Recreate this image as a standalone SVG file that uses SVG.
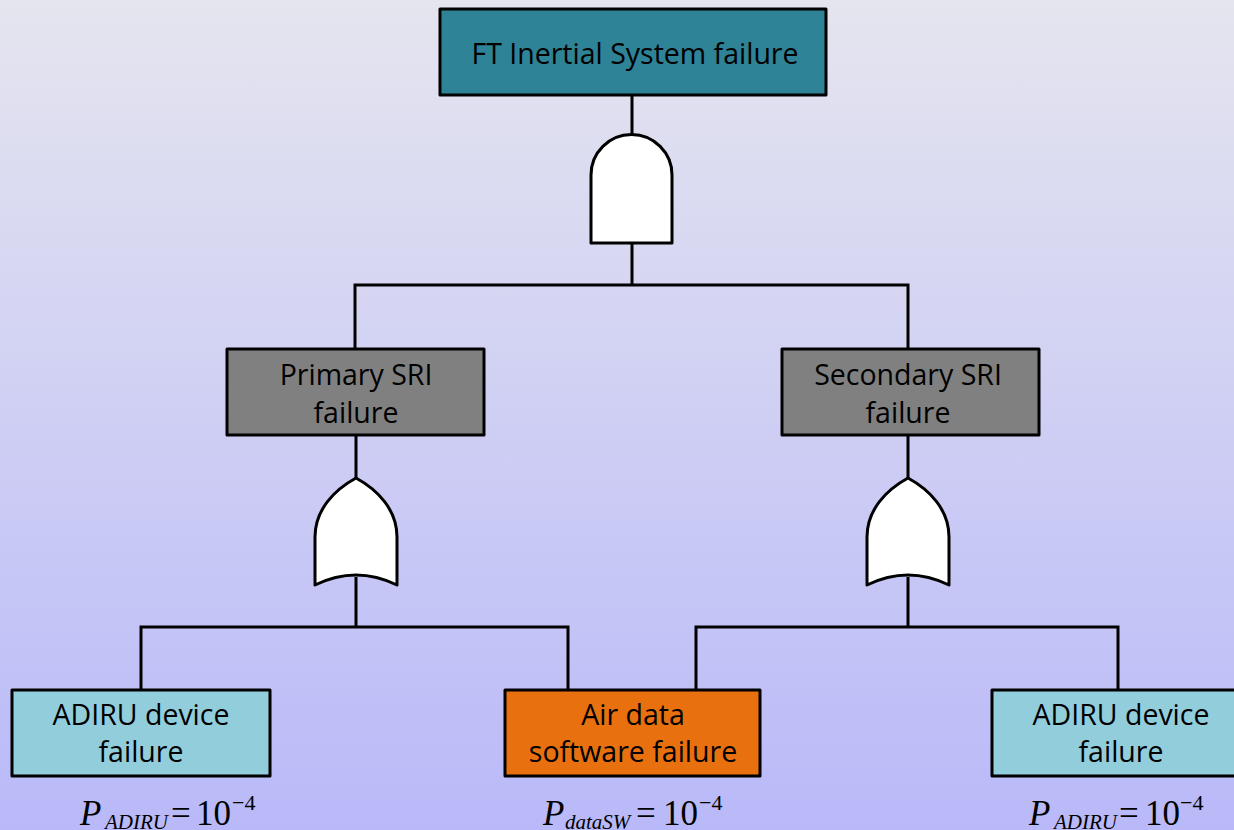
<svg xmlns="http://www.w3.org/2000/svg" width="1234" height="830" viewBox="0 0 1234 830">
  <defs>
    <linearGradient id="bg" x1="0" y1="0" x2="0" y2="1">
      <stop offset="0" stop-color="#e5e5ef"/>
      <stop offset="1" stop-color="#b9b9f9"/>
    </linearGradient>
    <path id="orGate" d="M0,0 C-22,12 -41,32 -41,59 L-41,107 Q0,87 41,107 L41,59 C41,32 22,12 0,0 Z"/>
  </defs>
  <style>
    .box { stroke: #000; stroke-width: 3; stroke-linejoin: round; }
    .wire { fill: none; stroke: #000; stroke-width: 3; }
    .gate { fill: #fff; stroke: #000; stroke-width: 3; stroke-linejoin: round; }
    .lbl { font-family: "Open Sans", Lato, sans-serif; font-size: 28.5px; fill: #000; text-anchor: middle; }
    .eq { font-family: "Liberation Serif", serif; font-size: 35px; fill: #000; }
    .it { font-style: italic; }
    .sub { font-size: 21px; font-style: italic; }
    .sup { font-size: 22px; }
  </style>

  <rect width="1234" height="830" fill="url(#bg)"/>

  <!-- connectors -->
  <g id="connectors" class="wire">
    <path d="M632,95 V135"/>
    <path d="M632,243 V285 M355,349 V285 H908 V349"/>
    <path d="M356,435 V478"/>
    <path d="M356,577 V627 M141,690 V627 H568 V690"/>
    <path d="M908,435 V478"/>
    <path d="M908,577 V627 M696,690 V627 H1118 V690"/>
  </g>

  <!-- top event -->
  <g id="top-event">
    <rect class="box" x="440" y="9" width="386" height="86" fill="#2e8397"/>
    <text class="lbl" x="635" y="64" font-size="30">FT Inertial System failure</text>
  </g>

  <!-- AND gate -->
  <g id="and-gate">
    <path class="gate" d="M591,243 V175 A40.5,40.5 0 0 1 672,175 V243 Z"/>
  </g>

  <g id="primary-sri">
    <rect class="box" x="227" y="349" width="257" height="86" fill="#808080"/>
    <text class="lbl" x="356" y="385">Primary SRI</text>
    <text class="lbl" x="356" y="423">failure</text>
  </g>

  <g id="secondary-sri">
    <rect class="box" x="782" y="349" width="257" height="86" fill="#808080"/>
    <text class="lbl" x="908" y="385">Secondary SRI</text>
    <text class="lbl" x="908" y="423">failure</text>
  </g>

  <g id="or-gate-primary">
    <use class="gate" href="#orGate" x="356" y="478"/>
  </g>

  <g id="or-gate-secondary">
    <use class="gate" href="#orGate" x="908" y="478"/>
  </g>

  <g id="adiru-left">
    <rect class="box" x="12" y="690" width="258" height="86" fill="#92cddc"/>
    <text class="lbl" x="141" y="725">ADIRU device</text>
    <text class="lbl" x="141" y="762">failure</text>
    <text class="eq"><tspan class="it" x="80" y="825">P</tspan><tspan class="sub" x="105" y="829">ADIRU</tspan><tspan x="171" y="825">=</tspan><tspan x="196" y="825">10</tspan><tspan class="sup" x="232" y="810">−4</tspan></text>
  </g>

  <g id="air-data-sw">
    <rect class="box" x="505" y="690" width="255" height="86" fill="#e8700e"/>
    <text class="lbl" x="633" y="725">Air data</text>
    <text class="lbl" x="633" y="762">software failure</text>
    <text class="eq"><tspan class="it" x="543" y="825">P</tspan><tspan class="sub" x="565" y="829">dataSW</tspan><tspan x="636" y="825">=</tspan><tspan x="663" y="825">10</tspan><tspan class="sup" x="699" y="810">−4</tspan></text>
  </g>

  <g id="adiru-right">
    <rect class="box" x="992" y="690" width="260" height="86" fill="#92cddc"/>
    <text class="lbl" x="1121" y="725">ADIRU device</text>
    <text class="lbl" x="1121" y="762">failure</text>
    <text class="eq"><tspan class="it" x="1029" y="825">P</tspan><tspan class="sub" x="1054" y="829">ADIRU</tspan><tspan x="1119" y="825">=</tspan><tspan x="1145" y="825">10</tspan><tspan class="sup" x="1180" y="810">−4</tspan></text>
  </g>
</svg>
